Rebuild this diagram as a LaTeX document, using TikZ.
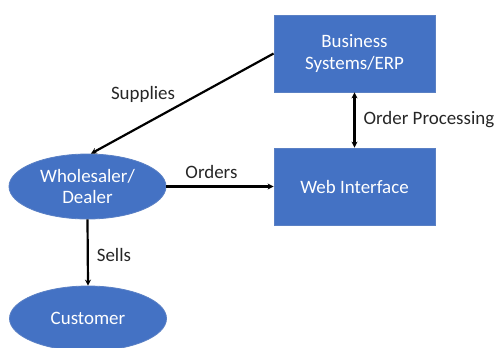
\documentclass[tikz,border=0pt]{standalone}
\usepackage{fontspec}
\setmainfont{Carlito}
\usetikzlibrary{shapes.geometric,arrows.meta}
\definecolor{offblue}{HTML}{4472C4}
\definecolor{edgeblue}{HTML}{5A80C4}
\definecolor{labelgray}{HTML}{262626}
\begin{document}
\begin{tikzpicture}[x=1bp,y=-1bp,
  mainfont/.style={font=\fontsize{19}{22}\selectfont},
  box/.style={rectangle, draw=edgeblue, line width=0.8bp, fill=offblue, text=white,
    minimum width=161bp, minimum height=77bp, inner sep=0pt, align=center, mainfont},
  oval/.style={ellipse, draw=edgeblue, line width=0.8bp, fill=offblue, text=white,
    minimum width=157bp, minimum height=65bp, inner sep=0pt, align=center, mainfont},
  tipshape/.style={},
  conn/.style={line width=2.2bp, black, -{Stealth[length=6bp,width=6bp]}},
  dconn/.style={line width=2.2bp, black, {Stealth[length=6bp,width=6bp]}-{Stealth[length=6bp,width=6bp]}},
  lbl/.style={text=labelgray, mainfont, inner sep=2bp}
]
\useasboundingbox (0,0) rectangle (495,347);
\node[box] (biz) at (354.5,53.5) {Business\\Systems/ERP};
\node[box] (web) at (354.5,186.5) {Web Interface};
\node[oval] (whole) at (87.5,186.5) {Wholesaler/\\Dealer};
\node[oval] (cust) at (88,318.5) {Customer};

\draw[conn] (biz.west) -- (whole.84)
  node[lbl, pos=0.55, anchor=south east, xshift=5bp, yshift=3bp] {Supplies};
\draw[dconn] (biz.south) -- (web.north)
  node[lbl, midway, right, xshift=6bp] {Order Processing};
\draw[conn] (whole.east) -- (web.west)
  node[lbl, pos=0.42, above, yshift=5bp] {Orders};
\draw[conn] (whole.south) -- (cust.north)
  node[lbl, midway, right, xshift=6bp, yshift=-2bp] {Sells};
\end{tikzpicture}
\end{document}
